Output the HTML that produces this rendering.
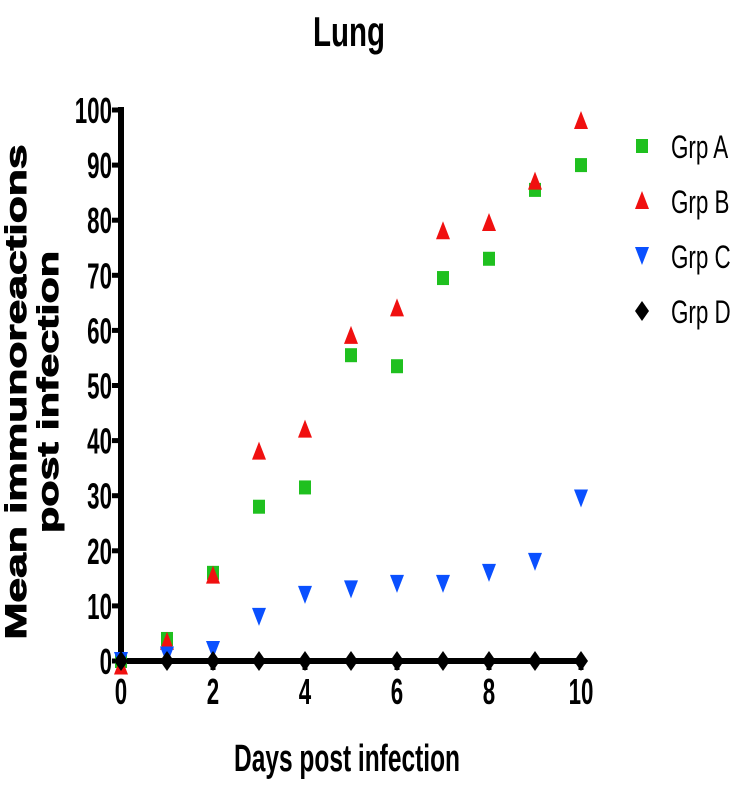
<!DOCTYPE html>
<html><head><meta charset="utf-8"><style>
html,body{margin:0;padding:0;background:#fff;}
svg text{font-family:"Liberation Sans",sans-serif;font-weight:bold;}
</style></head><body>
<svg id="chart" width="738" height="788" xmlns="http://www.w3.org/2000/svg">
<text x="349" y="46" text-anchor="middle" font-size="42" textLength="72" lengthAdjust="spacingAndGlyphs">Lung</text>
<text transform="translate(26,392) rotate(-90)" text-anchor="middle" font-size="30" stroke="#000" stroke-width="1">
<tspan x="0" y="0" textLength="495" lengthAdjust="spacingAndGlyphs">Mean immunoreactions</tspan><tspan x="0" y="32" textLength="282" lengthAdjust="spacingAndGlyphs">post infection</tspan></text>
<text x="347" y="771" text-anchor="middle" font-size="38" textLength="226" lengthAdjust="spacingAndGlyphs">Days post infection</text>
<g id="axes"></g>
<g id="marks"></g>
<g id="legend"></g>
</svg>
<script>
const days = [0,1,2,3,4,5,6,7,8,9,10];
const grpA = [0,4,16,28,31.5,55.5,53.5,69.5,73,85.5,90];
const grpB = [-1,3.5,15.5,38,42,59,64,78,79.5,87,98];
const grpC = [0,1,2,8,12,13,14,14,16,18,29.5];
const grpD = [0,0,0,0,0,0,0,0,0,0,0];
const yTicks = [0,10,20,30,40,50,60,70,80,90,100];
const xTicks = [0,2,4,6,8,10];
const seriesNames = ["Grp A","Grp B","Grp C","Grp D"];

const NS="http://www.w3.org/2000/svg";
const xS=v=>121+v*46;
const yS=v=>661-v*5.51;
function mk(tag,attrs,parent){const e=document.createElementNS(NS,tag);for(const k in attrs)e.setAttribute(k,attrs[k]);parent.appendChild(e);return e;}
const axes=document.getElementById('axes'),marks=document.getElementById('marks'),legend=document.getElementById('legend');

let yl=mk('line',{x1:xS(0),y1:yS(100)-3,x2:xS(0),y2:yS(0)+3,stroke:'#000','stroke-width':6},axes);


let xl=mk('line',{x1:xS(0)-3,y1:yS(0),x2:xS(10)+4,y2:yS(0),stroke:'#000','stroke-width':6},axes);


yTicks.forEach(t=>{
  let l=mk('line',{x1:xS(0)-9,y1:yS(t),x2:xS(0),y2:yS(t),stroke:'#000','stroke-width':5},axes);
  
  
  let tx=mk('text',{x:0,y:0,'text-anchor':'end','font-size':36,transform:`translate(${xS(0)-9},${yS(t)+13}) scale(0.62,1)`},axes);
  tx.textContent=t;
  
  
});
xTicks.forEach(t=>{
  let l=mk('line',{x1:xS(t),y1:yS(0),x2:xS(t),y2:yS(0)+9,stroke:'#000','stroke-width':5},axes);
  
  
  let tx=mk('text',{x:0,y:0,'text-anchor':'middle','font-size':36,transform:`translate(${xS(t)},${yS(0)+43}) scale(0.62,1)`},axes);
  tx.textContent=t;
  
  
});
function shape(kind,cx,cy,parent){
  if(kind==0)return mk('rect',{x:cx-6,y:cy-7,width:12,height:14,fill:'#1fc01f'},parent);
  if(kind==1)return mk('polygon',{points:`${cx},${cy-10} ${cx+7},${cy+8} ${cx-7},${cy+8}`,fill:'#f01010'},parent);
  if(kind==2)return mk('polygon',{points:`${cx-7},${cy-9} ${cx+7},${cy-9} ${cx},${cy+9}`,fill:'#0a50ff'},parent);
  return mk('polygon',{points:`${cx},${cy-10} ${cx+7},${cy} ${cx},${cy+10} ${cx-7},${cy}`,fill:'#000'},parent);
}
[grpA,grpB,grpC,grpD].forEach((s,k)=>{
  s.forEach((v,i)=>{
    const e=shape(k,xS(days[i]),yS(v),marks);
    
    
  });
});
seriesNames.forEach((n,k)=>{
  const cy=146+k*55;
  const e=shape(k,642,cy,legend);
  
  
  const t=mk('text',{x:0,y:0,'font-size':32,transform:`translate(671,${cy+12}) scale(0.7,1)`},legend);
  t.style.fontWeight='normal';
  t.textContent=n;
  
  
});
</script>
</body></html>
